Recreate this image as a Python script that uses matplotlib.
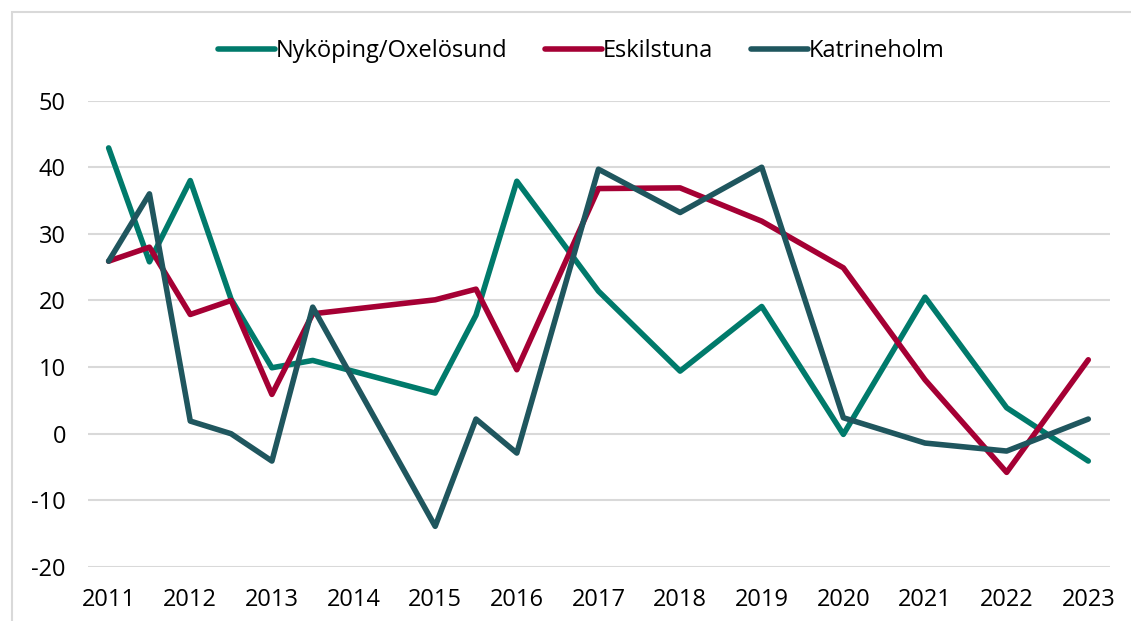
import matplotlib
matplotlib.use('Agg')
import matplotlib.pyplot as plt
from matplotlib.patches import Rectangle

plt.rcParams['font.family'] = ['Open Sans', 'DejaVu Sans']
plt.rcParams['axes.unicode_minus'] = False

# x positions (years, some half-year points)
x = [2011, 2011.5, 2012, 2012.5, 2013, 2013.5, 2015, 2015.5, 2016,
     2017, 2018, 2019, 2020, 2021, 2022, 2023]
nykoping = [42.9, 25.8, 38.0, 20.2, 9.9, 11.0, 6.1, 17.8, 37.9,
            21.4, 9.4, 19.1, -0.1, 20.5, 3.9, -4.1]
eskilstuna = [25.9, 28.0, 17.9, 20.0, 5.9, 18.0, 20.1, 21.7, 9.6,
              36.8, 36.9, 31.9, 24.9, 8.1, -5.8, 11.1]
katrineholm = [25.9, 36.0, 1.9, 0.0, -4.1, 19.0, -13.9, 2.2, -2.9,
               39.7, 33.2, 40.0, 2.4, -1.4, -2.6, 2.2]
years = list(range(2011, 2024))
yticks = [-20, -10, 0, 10, 20, 30, 40, 50]

fig = plt.figure(figsize=(11.31, 6.21), dpi=100)
ax = fig.add_axes([0.078, 0.087, 0.903, 0.751])

ax.plot(x, nykoping, color='#007A6B', lw=4.0, label='Nyköping/Oxelösund', solid_capstyle='round')
ax.plot(x, eskilstuna, color='#A50034', lw=4.0, label='Eskilstuna', solid_capstyle='round')
ax.plot(x, katrineholm, color='#1F565E', lw=4.0, label='Katrineholm', solid_capstyle='round')

ax.set_xlim(2010.75, 2023.26)
ax.set_ylim(-20, 50)
ax.set_xticks(years)
ax.set_yticks(yticks)
ax.grid(axis='y', color='#D9D9D9', lw=1.5)
ax.set_axisbelow(True)
for s in ax.spines.values():
    s.set_visible(False)
ax.tick_params(length=0, labelsize=17, colors='black')
ax.tick_params(axis='y', pad=16)
ax.tick_params(axis='x', pad=15)

fig.legend(loc='center', bbox_to_anchor=(0.514, 0.918), ncol=3, frameon=False,
           fontsize=17, handlelength=2.4, columnspacing=1.6, handletextpad=0.05)

# outer chart frame
fig.patches.append(Rectangle((12 / 1131, -0.1), 1.2, 1 - 12 / 621 + 0.1,
                             transform=fig.transFigure, fill=False,
                             edgecolor='#D9D9D9', lw=1.5))

fig.savefig('out.png', dpi=100)
